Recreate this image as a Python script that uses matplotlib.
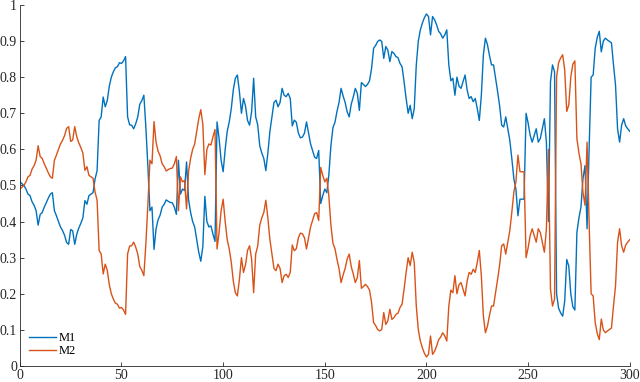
import matplotlib
matplotlib.use('Agg')
import matplotlib.pyplot as plt
import numpy as np

# sample index 0..300
steps = np.arange(0, 301)

m1 = [
    0.510, 0.505, 0.500, 0.490, 0.476, 0.472, 0.455, 0.445, 0.430, 0.390,
    0.420, 0.425, 0.440, 0.452, 0.465, 0.476, 0.480, 0.430, 0.416, 0.400,
    0.385, 0.375, 0.362, 0.342, 0.337, 0.378, 0.374, 0.337, 0.365, 0.382,
    0.395, 0.410, 0.458, 0.448, 0.472, 0.476, 0.480, 0.518, 0.541, 0.680,
    0.690, 0.745, 0.718, 0.735, 0.775, 0.800, 0.815, 0.826, 0.829, 0.840,
    0.838, 0.845, 0.857, 0.690, 0.668, 0.667, 0.657, 0.671, 0.690, 0.725,
    0.735, 0.750, 0.660, 0.550, 0.430, 0.440, 0.323, 0.380, 0.405, 0.418,
    0.440, 0.448, 0.460, 0.456, 0.453, 0.452, 0.440, 0.420, 0.570, 0.476,
    0.490, 0.486, 0.565, 0.460, 0.425, 0.400, 0.385, 0.350, 0.315, 0.290,
    0.330, 0.470, 0.400, 0.385, 0.388, 0.365, 0.345, 0.676, 0.630, 0.570,
    0.538, 0.600, 0.650, 0.676, 0.713, 0.765, 0.797, 0.806, 0.760, 0.700,
    0.741, 0.720, 0.680, 0.667, 0.704, 0.797, 0.690, 0.668, 0.610, 0.590,
    0.575, 0.541, 0.590, 0.650, 0.690, 0.730, 0.736, 0.718, 0.730, 0.769,
    0.750, 0.746, 0.755, 0.741, 0.665, 0.681, 0.675, 0.645, 0.632, 0.634,
    0.645, 0.676, 0.645, 0.615, 0.597, 0.578, 0.575, 0.597, 0.450, 0.472,
    0.490, 0.480, 0.530, 0.610, 0.660, 0.675, 0.705, 0.730, 0.769, 0.748,
    0.730, 0.704, 0.690, 0.725, 0.745, 0.769, 0.755, 0.708, 0.785, 0.780,
    0.774, 0.780, 0.790, 0.824, 0.880, 0.888, 0.899, 0.903, 0.899, 0.852,
    0.885, 0.875, 0.843, 0.871, 0.866, 0.857, 0.854, 0.838, 0.829, 0.787,
    0.741, 0.700, 0.722, 0.685, 0.713, 0.834, 0.900, 0.931, 0.950, 0.965,
    0.975, 0.968, 0.917, 0.968, 0.959, 0.945, 0.927, 0.920, 0.908, 0.917,
    0.931, 0.834, 0.790, 0.797, 0.750, 0.800, 0.775, 0.769, 0.787, 0.806,
    0.765, 0.741, 0.746, 0.732, 0.741, 0.713, 0.680, 0.750, 0.862, 0.908,
    0.890, 0.860, 0.834, 0.834, 0.797, 0.760, 0.720, 0.667, 0.662, 0.690,
    0.657, 0.625, 0.574, 0.518, 0.490, 0.416, 0.462, 0.462, 0.462, 0.700,
    0.673, 0.639, 0.620, 0.639, 0.657, 0.620, 0.630, 0.657, 0.685, 0.620,
    0.400, 0.787, 0.834, 0.815, 0.200, 0.160, 0.147, 0.138, 0.180, 0.295,
    0.277, 0.200, 0.164, 0.155, 0.370, 0.410, 0.440, 0.520, 0.555, 0.380,
    0.600, 0.800, 0.806, 0.880, 0.910, 0.927, 0.870, 0.900, 0.908, 0.903,
    0.899, 0.895, 0.834, 0.778, 0.657, 0.620, 0.667, 0.685, 0.665, 0.657,
    0.650,
]

m2 = [
    0.490, 0.495, 0.500, 0.510, 0.524, 0.528, 0.545, 0.555, 0.570, 0.610,
    0.580, 0.575, 0.560, 0.548, 0.535, 0.524, 0.520, 0.570, 0.584, 0.600,
    0.615, 0.625, 0.638, 0.658, 0.663, 0.622, 0.626, 0.663, 0.635, 0.618,
    0.605, 0.590, 0.542, 0.552, 0.528, 0.524, 0.520, 0.482, 0.459, 0.320,
    0.310, 0.255, 0.282, 0.265, 0.225, 0.200, 0.185, 0.174, 0.171, 0.160,
    0.162, 0.155, 0.143, 0.310, 0.332, 0.333, 0.343, 0.329, 0.310, 0.275,
    0.265, 0.250, 0.340, 0.450, 0.570, 0.560, 0.677, 0.620, 0.595, 0.582,
    0.560, 0.552, 0.540, 0.544, 0.547, 0.548, 0.560, 0.580, 0.430, 0.524,
    0.510, 0.514, 0.435, 0.540, 0.575, 0.600, 0.615, 0.650, 0.685, 0.710,
    0.670, 0.530, 0.600, 0.615, 0.612, 0.635, 0.655, 0.324, 0.370, 0.430,
    0.462, 0.400, 0.350, 0.324, 0.287, 0.235, 0.203, 0.194, 0.240, 0.300,
    0.259, 0.280, 0.320, 0.333, 0.296, 0.203, 0.310, 0.332, 0.390, 0.410,
    0.425, 0.459, 0.410, 0.350, 0.310, 0.270, 0.264, 0.282, 0.270, 0.231,
    0.250, 0.254, 0.245, 0.259, 0.335, 0.319, 0.325, 0.355, 0.368, 0.366,
    0.355, 0.324, 0.355, 0.385, 0.403, 0.422, 0.425, 0.403, 0.550, 0.528,
    0.510, 0.520, 0.470, 0.390, 0.340, 0.325, 0.295, 0.270, 0.231, 0.252,
    0.270, 0.296, 0.310, 0.275, 0.255, 0.231, 0.245, 0.292, 0.215, 0.220,
    0.226, 0.220, 0.210, 0.176, 0.120, 0.112, 0.101, 0.097, 0.101, 0.148,
    0.115, 0.125, 0.157, 0.129, 0.134, 0.143, 0.146, 0.162, 0.171, 0.213,
    0.259, 0.300, 0.278, 0.315, 0.287, 0.166, 0.100, 0.069, 0.050, 0.035,
    0.025, 0.032, 0.083, 0.032, 0.041, 0.055, 0.073, 0.080, 0.092, 0.083,
    0.069, 0.166, 0.210, 0.203, 0.250, 0.200, 0.225, 0.231, 0.213, 0.194,
    0.235, 0.259, 0.254, 0.268, 0.259, 0.287, 0.320, 0.250, 0.138, 0.092,
    0.110, 0.140, 0.166, 0.166, 0.203, 0.240, 0.280, 0.333, 0.338, 0.310,
    0.343, 0.375, 0.426, 0.482, 0.510, 0.584, 0.538, 0.538, 0.538, 0.300,
    0.327, 0.361, 0.380, 0.361, 0.343, 0.380, 0.370, 0.343, 0.315, 0.380,
    0.600, 0.213, 0.166, 0.185, 0.800, 0.840, 0.853, 0.862, 0.820, 0.705,
    0.723, 0.800, 0.836, 0.845, 0.630, 0.590, 0.560, 0.480, 0.445, 0.620,
    0.400, 0.200, 0.194, 0.120, 0.090, 0.073, 0.130, 0.100, 0.092, 0.097,
    0.101, 0.105, 0.166, 0.222, 0.343, 0.380, 0.333, 0.315, 0.335, 0.343,
    0.350,
]

x_ticks = [0, 50, 100, 150, 200, 250, 300]
y_ticks = [0, 0.1, 0.2, 0.3, 0.4, 0.5, 0.6, 0.7, 0.8, 0.9, 1]
y_labels = ['0', '0.1', '0.2', '0.3', '0.4', '0.5', '0.6', '0.7', '0.8', '0.9', '1']

plt.rcParams['font.family'] = ['Liberation Serif', 'DejaVu Serif']

fig = plt.figure(figsize=(6.4, 3.82), dpi=100)
ax = fig.add_axes([0.031, 0.042, 0.953, 0.945])

ax.plot(steps, m1, color='#0072BD', lw=1.0, label='M1')
ax.plot(steps, m2, color='#D95319', lw=1.0, label='M2')

ax.set_xlim(0, 300)
ax.set_ylim(0, 1)
ax.set_xticks(x_ticks)
ax.set_yticks(y_ticks)
ax.set_yticklabels(y_labels)

for side in ['top', 'right']:
    ax.spines[side].set_visible(False)
for side in ['left', 'bottom']:
    ax.spines[side].set_color('#262626')
    ax.spines[side].set_linewidth(0.6)

ax.tick_params(direction='in', length=3, width=0.6, colors='#262626',
               labelsize=10, pad=2)

ax.legend(loc='lower left', frameon=False, fontsize=9, handlelength=2.2,
          handletextpad=0.2, labelspacing=0.1, borderaxespad=0.3)

plt.savefig('out.png', dpi=100)
